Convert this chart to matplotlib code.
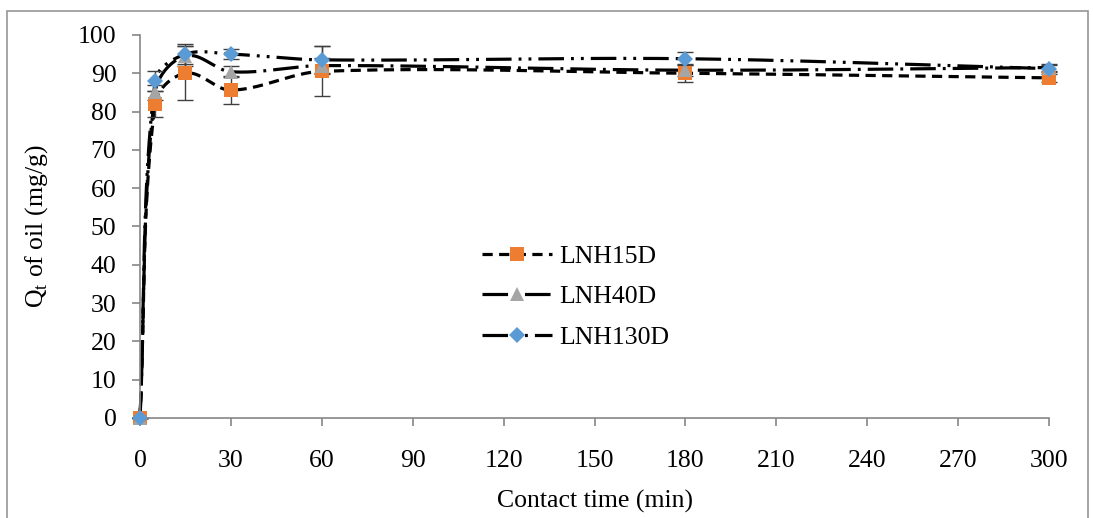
import numpy as np
import matplotlib
matplotlib.use('Agg')
import matplotlib.pyplot as plt
from matplotlib.lines import Line2D
from matplotlib.patches import Rectangle

plt.rcParams['font.family'] = ['Liberation Serif', 'DejaVu Serif']
plt.rcParams['mathtext.fontset'] = 'custom'
plt.rcParams['mathtext.rm'] = 'Liberation Serif'

# data
time_min = [0, 5, 15, 30, 60, 180, 300]
lnh15d = [0, 82, 90, 85.6, 90.5, 90, 88.8]
lnh15d_err = [0, 3.5, 7, 3.6, 6.5, 2.2, 1]
lnh40d = [0, 85, 94.5, 90.4, 92, 90.8, 91.5]
lnh40d_err = [0, 2, 2.5, 1.5, 2, 1.5, 1]
lnh130d = [0, 88, 95, 95, 93.5, 93.8, 91.2]
lnh130d_err = [0, 2.6, 2.6, 1.3, 3.6, 1.7, 1]
labels = ['LNH15D', 'LNH40D', 'LNH130D']
x_ticks = [0, 30, 60, 90, 120, 150, 180, 210, 240, 270, 300]
y_ticks = [0, 10, 20, 30, 40, 50, 60, 70, 80, 90, 100]

# pixel per data unit, used so the smoothing behaves like in the spreadsheet
PX_X = 909 / 300
PX_Y = 383 / 100


def smooth(xs, ys, n=40):
    # smoothed line: cubic Bezier, tangents from neighbours, scaled by chord length
    pts = np.column_stack([np.asarray(xs) * PX_X, np.asarray(ys) * PX_Y]).astype(float)
    m = len(pts)
    tang = []
    for i in range(m):
        a = pts[max(i - 1, 0)]
        b = pts[min(i + 1, m - 1)]
        d = b - a
        tang.append(d / np.linalg.norm(d))
    out = []
    for i in range(m - 1):
        p1, p2 = pts[i], pts[i + 1]
        L = np.linalg.norm(p2 - p1)
        c1 = p1 + tang[i] * L / 3
        c2 = p2 - tang[i + 1] * L / 3
        t = np.linspace(0, 1, n)[:, None]
        seg = (1 - t) ** 3 * p1 + 3 * (1 - t) ** 2 * t * c1 + 3 * (1 - t) * t ** 2 * c2 + t ** 3 * p2
        out.append(seg if i == 0 else seg[1:])
    s = np.vstack(out)
    return s[:, 0] / PX_X, s[:, 1] / PX_Y


series = [
    (lnh15d, lnh15d_err, (0, (3.2, 2.0)), 's', '#ED7D31', 10.5),
    (lnh40d, lnh40d_err, (0, (8, 2.2, 0.9, 2.2)), '^', '#A5A5A5', 10),
    (lnh130d, lnh130d_err, (0, (8, 2.2, 0.9, 2.2, 0.9, 2.2)), 'D', '#5B9BD5', 8.5),
]

fig = plt.figure(figsize=(10.93, 5.18), dpi=100)
ax = fig.add_axes([0.1281, 0.1931, 0.8317, 0.7394])

handles = []
for (vals, err, ls, mk, col, ms), lab in zip(series, labels):
    sx, sy = smooth(time_min, vals)
    ax.plot(sx, sy, color='black', lw=2.3, linestyle=ls, zorder=2, clip_on=False)
    ax.errorbar(time_min, vals, yerr=err, fmt='none', ecolor='#404040', elinewidth=1.0,
                capsize=6, capthick=1.0, zorder=2.5, clip_on=False)
    ax.plot(time_min, vals, linestyle='none', marker=mk, color=col, markersize=ms,
            markeredgewidth=0, zorder=3, clip_on=False)
    handles.append(Line2D([], [], color='black', lw=2.3, linestyle=ls, marker=mk,
                          markerfacecolor=col, markeredgewidth=0, markersize=ms))

ax.set_xlim(0, 300)
ax.set_ylim(0, 100)
ax.set_xticks(x_ticks)
ax.set_yticks(y_ticks)
for side in ['top', 'right']:
    ax.spines[side].set_visible(False)
for side in ['left', 'bottom']:
    ax.spines[side].set_color('#868686')
    ax.spines[side].set_linewidth(1.2)
ax.tick_params(direction='out', length=6, width=1.2, color='#868686', labelsize=18.5)
ax.tick_params(axis='x', pad=17)
ax.tick_params(axis='y', pad=11)

ax.set_xlabel('Contact time (min)', fontsize=18.5, labelpad=13)
ax.set_ylabel(r'Q$_\mathregular{t}$ of oil (mg/g)', fontsize=18.5, labelpad=20)

ax.legend(handles, labels, loc='upper left', bbox_to_anchor=(0.351, 0.513),
          frameon=False, fontsize=18.5, handlelength=2.7, handletextpad=0.3,
          labelspacing=0.68, numpoints=1)

# outer border of the chart area
fig.patches.append(Rectangle((7 / 1093, -0.01), 1081 / 1093, 1 - 11 / 518 + 0.01,
                             transform=fig.transFigure, fill=False,
                             edgecolor='#969696', lw=1.2))

fig.savefig('out.png', dpi=100)
